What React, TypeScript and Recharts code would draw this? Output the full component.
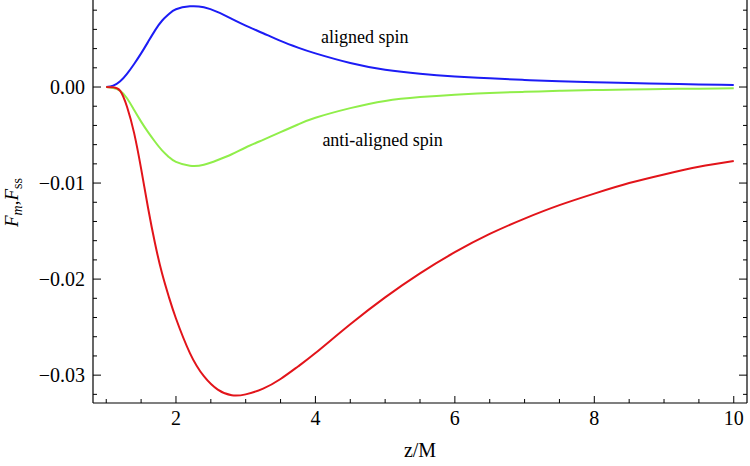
import { LineChart, Line, XAxis, YAxis, ReferenceDot, Label } from 'recharts';

// z/M sample points
const zValues = [1.0, 1.1, 1.2, 1.3, 1.4, 1.5, 1.6, 1.7, 1.8, 1.9, 2.0, 2.2, 2.4, 2.6, 2.8, 3.0, 3.25, 3.5, 3.75, 4.0, 4.5, 5.0, 5.5, 6.0, 6.5, 7.0, 7.5, 8.0, 8.5, 9.0, 9.5, 10.0];

const alignedSpin = [0, 0.00015, 0.0006, 0.0014, 0.0024, 0.0035, 0.0047, 0.0059, 0.0069, 0.0076, 0.0081, 0.0084, 0.0083, 0.0078, 0.0071, 0.0064, 0.0056, 0.0048, 0.0041, 0.0035, 0.0025, 0.0018, 0.00138, 0.0011, 0.0009, 0.00074, 0.0006, 0.0005, 0.00041, 0.00034, 0.00027, 0.00022];

const antiAlignedSpin = [0, -0.0001, -0.0004, -0.0012, -0.0024, -0.0036, -0.0047, -0.0057, -0.0066, -0.0073, -0.0078, -0.0082, -0.0081, -0.0076, -0.007, -0.0063, -0.0055, -0.0047, -0.0039, -0.0032, -0.0022, -0.00145, -0.00105, -0.0008, -0.00062, -0.0005, -0.0004, -0.00032, -0.00026, -0.00021, -0.00017, -0.00014];

const massTerm = [0, -0.00003, -0.0004, -0.0021, -0.0048, -0.0085, -0.0126, -0.0163, -0.0194, -0.0219, -0.0241, -0.0277, -0.0301, -0.0315, -0.0321, -0.032, -0.0314, -0.0304, -0.0291, -0.0277, -0.0247, -0.0219, -0.0194, -0.0172, -0.0153, -0.0137, -0.0123, -0.0111, -0.01, -0.0091, -0.0083, -0.0077];

const xTicks = [1, 1.5, 2, 2.5, 3, 3.5, 4, 4.5, 5, 5.5, 6, 6.5, 7, 7.5, 8, 8.5, 9, 9.5, 10];
const xMajor = [2, 4, 6, 8, 10];
const yTicks = [0.008, 0.006, 0.004, 0.002, 0, -0.002, -0.004, -0.006, -0.008, -0.01, -0.012, -0.014, -0.016, -0.018, -0.02, -0.022, -0.024, -0.026, -0.028, -0.03, -0.032];

const data = zValues.map((z, i) => ({
  z,
  aligned: alignedSpin[i],
  anti: antiAlignedSpin[i],
  mass: massTerm[i],
}));

const FONT = '"Liberation Serif", "Times New Roman", serif';

const isYMajor = (v: number) => Math.abs(v * 100 - Math.round(v * 100)) < 1e-9;
const fmtY = (v: number) => (v < 0 ? '\u2212' : '') + Math.abs(v).toFixed(2);

const BottomTick = ({ x, y, payload }: any) => {
  const major = xMajor.includes(payload.value);
  return (
    <g>
      <line x1={x} x2={x} y1={y} y2={y - (major ? 7 : 4)} stroke="#000" strokeWidth={1} />
      {major && (
        <text x={x} y={y + 22} textAnchor="middle" fontFamily={FONT} fontSize={20} fill="#000">
          {payload.value}
        </text>
      )}
    </g>
  );
};

const TopTick = ({ x, y, payload }: any) => {
  const major = xMajor.includes(payload.value);
  return <line x1={x} x2={x} y1={y} y2={y + (major ? 7 : 4)} stroke="#000" strokeWidth={1} />;
};

const LeftTick = ({ x, y, payload }: any) => {
  const major = isYMajor(payload.value);
  return (
    <g>
      <line x1={x} x2={x + (major ? 8 : 4)} y1={y} y2={y} stroke="#000" strokeWidth={1} />
      {major && (
        <text x={x - 8} y={y} dy="0.35em" textAnchor="end" fontFamily={FONT} fontSize={20} fill="#000">
          {fmtY(payload.value)}
        </text>
      )}
    </g>
  );
};

const RightTick = ({ x, y, payload }: any) => {
  const major = isYMajor(payload.value);
  return <line x1={x} x2={x - (major ? 8 : 4)} y1={y} y2={y} stroke="#000" strokeWidth={1} />;
};

const App = () => {
  const xDomain = [0.81, 10.19];
  const yDomain = [-0.0329, 0.00906];

  return (
    <div style={{ position: 'absolute', left: 0, top: 0, background: '#fff' }}>
      <LineChart width={750} height={466} data={data} margin={{ top: 0, right: 0, bottom: 0, left: 0 }}>
        <XAxis
          dataKey="z"
          type="number"
          domain={xDomain}
          allowDataOverflow
          ticks={xTicks}
          interval={0}
          tickSize={0}
          tickMargin={0}
          tickLine={false}
          tick={<BottomTick />}
          height={63}
          axisLine={{ stroke: '#000', strokeWidth: 1.2 }}
        >
          <Label
            content={({ viewBox }: any) => (
              <text x={viewBox.x + viewBox.width / 2} y={viewBox.y + 54} textAnchor="middle" fontFamily={FONT} fontSize={20} fill="#000">
                z/M
              </text>
            )}
          />
        </XAxis>
        <XAxis
          xAxisId="top"
          orientation="top"
          dataKey="z"
          type="number"
          domain={xDomain}
          allowDataOverflow
          ticks={xTicks}
          interval={0}
          tickSize={0}
          tickMargin={0}
          tickLine={false}
          tick={<TopTick />}
          height={0}
          axisLine={false}
        />
        <YAxis
          type="number"
          domain={yDomain}
          allowDataOverflow
          ticks={yTicks}
          interval={0}
          tickSize={0}
          tickMargin={0}
          tickLine={false}
          tick={<LeftTick />}
          width={93}
          axisLine={{ stroke: '#000', strokeWidth: 1.2 }}
        >
          <Label
            content={({ viewBox }: any) => {
              const cx = 18;
              const cy = viewBox.y + viewBox.height / 2 + 1;
              return (
                <text x={cx} y={cy} transform={`rotate(-90 ${cx} ${cy})`} textAnchor="middle" fontFamily={FONT} fontSize={19} fill="#000">
                  <tspan fontStyle="italic">F</tspan>
                  <tspan fontStyle="italic" fontSize={14} dy={4}>m</tspan>
                  <tspan dy={-4}>,</tspan>
                  <tspan fontStyle="italic">F</tspan>
                  <tspan fontSize={14} dy={4}>ss</tspan>
                </text>
              );
            }}
          />
        </YAxis>
        <YAxis
          yAxisId="right"
          orientation="right"
          type="number"
          domain={yDomain}
          allowDataOverflow
          ticks={yTicks}
          interval={0}
          tickSize={0}
          tickMargin={0}
          tickLine={false}
          tick={<RightTick />}
          width={3}
          axisLine={{ stroke: '#000', strokeWidth: 1.2 }}
        />
        <Line type="natural" dataKey="aligned" stroke="#1c1cf5" strokeWidth={2} dot={false} isAnimationActive={false} />
        <Line type="natural" dataKey="anti" stroke="#90ee4a" strokeWidth={2} dot={false} isAnimationActive={false} />
        <Line type="natural" dataKey="mass" stroke="#e2141a" strokeWidth={2} dot={false} isAnimationActive={false} />
        <ReferenceDot x={4.08} y={0.0052} r={0} stroke="none" fill="none">
          <Label position="right" offset={0} content={({ viewBox }: any) => (
            <text x={viewBox.x} y={viewBox.y} dy="0.35em" fontFamily={FONT} fontSize={18} fill="#000">aligned spin</text>
          )} />
        </ReferenceDot>
        <ReferenceDot x={4.1} y={-0.0055} r={0} stroke="none" fill="none">
          <Label position="right" offset={0} content={({ viewBox }: any) => (
            <text x={viewBox.x} y={viewBox.y} dy="0.35em" fontFamily={FONT} fontSize={18} fill="#000">anti-aligned spin</text>
          )} />
        </ReferenceDot>
      </LineChart>
    </div>
  );
};

export default App;
